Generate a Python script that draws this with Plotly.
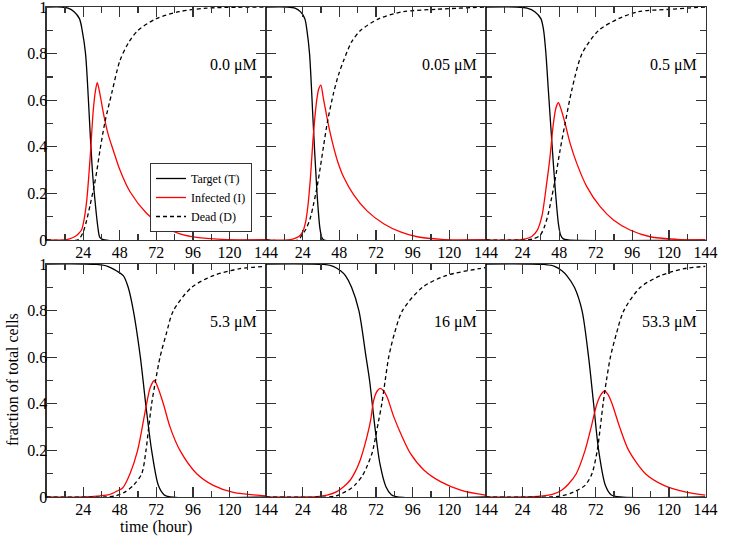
import plotly.graph_objects as go

# ---------------- data ----------------
panel_labels = ["0.0 \u03bcM", "0.05 \u03bcM", "0.5 \u03bcM", "5.3 \u03bcM", "16 \u03bcM", "53.3 \u03bcM"]
series_names = ["Target (T)", "Infected (I)", "Dead (D)"]
x_tick_vals = [0, 24, 48, 72, 96, 120, 144]
x_tick_text = ["", "24", "48", "72", "96", "120", "144"]
y_tick_vals = [0, 0.2, 0.4, 0.6, 0.8, 1]
y_tick_text = ["0", "0.2", "0.4", "0.6", "0.8", "1"]

# Panel 1: 0.0 uM
T1_t = [0, 10, 14, 18, 21.5, 23.3, 25.5, 27.4, 28.6, 30.2, 31.7, 33.5, 35, 38, 144]
T1_v = [1, 1, 0.995, 0.98, 0.95, 0.9, 0.8, 0.6, 0.45, 0.28, 0.17, 0.06, 0.01, 0, 0]
I1_t = [0, 11, 15, 18.6, 21, 23, 24.6, 26.3, 28.4, 30.6, 32, 33.2, 35, 36.8, 38.3, 40.5, 43.7, 48.1, 54.7, 65.7, 76.6, 87.5, 98.5, 115, 144]
I1_v = [0, 0, 0.005, 0.015, 0.028, 0.045, 0.09, 0.17, 0.343, 0.558, 0.64, 0.675, 0.625, 0.56, 0.51, 0.45, 0.385, 0.30, 0.207, 0.114, 0.057, 0.026, 0.011, 0.003, 0]
D1_t = [0, 20, 22, 24, 26.3, 28.5, 31.1, 33, 35, 38.3, 42.7, 48.1, 54, 60, 72, 87, 105, 144]
D1_v = [0, 0, 0.01, 0.035, 0.086, 0.15, 0.23, 0.3, 0.386, 0.508, 0.63, 0.77, 0.85, 0.9, 0.95, 0.98, 0.995, 1]

# Panel 2: 0.05 uM
T2_t = [0, 14, 19, 22.5, 25.4, 26.8, 28.5, 30.9, 33.4, 35.3, 36.6, 38, 144]
T2_v = [1, 1, 0.995, 0.98, 0.95, 0.9, 0.8, 0.5, 0.2, 0.05, 0.01, 0, 0]
I2_t = [0, 14, 18, 21.5, 24, 26, 27.5, 29, 31, 33.2, 34.6, 35.9, 37.5, 39.8, 42, 44.2, 47, 50.8, 57.3, 66.1, 77, 88, 99, 115, 144]
I2_v = [0, 0, 0.005, 0.015, 0.035, 0.08, 0.15, 0.26, 0.45, 0.6, 0.65, 0.665, 0.61, 0.53, 0.46, 0.40, 0.335, 0.27, 0.195, 0.125, 0.07, 0.035, 0.014, 0.003, 0]
D2_t = [0, 21, 23.4, 26, 28.8, 31, 33.5, 35.5, 37.6, 40.3, 44.2, 47.5, 50.8, 56, 62, 74, 90, 111, 144]
D2_v = [0, 0, 0.02, 0.045, 0.09, 0.15, 0.23, 0.31, 0.40, 0.51, 0.63, 0.71, 0.77, 0.85, 0.9, 0.95, 0.98, 0.99, 1]

# Panel 3: 0.5 uM
T3_t = [0, 20, 27, 32, 36, 37.8, 39.3, 40.9, 43.1, 45.3, 47.5, 49, 50.7, 54, 144]
T3_v = [1, 1, 0.995, 0.98, 0.95, 0.9, 0.8, 0.644, 0.43, 0.229, 0.07, 0.02, 0.005, 0, 0]
I3_t = [0, 19, 26, 30, 33.5, 36.6, 39.8, 42, 44.2, 46, 47.5, 49.3, 51.9, 55.2, 59.5, 66.1, 74.9, 83.6, 94.5, 107.7, 125, 144]
I3_v = [0, 0, 0.005, 0.015, 0.04, 0.1, 0.243, 0.357, 0.5, 0.57, 0.589, 0.56, 0.5, 0.415, 0.33, 0.229, 0.143, 0.086, 0.043, 0.014, 0.003, 0]
D3_t = [0, 26, 31, 35.5, 38.5, 40.9, 43, 45.3, 48.6, 51.9, 56.3, 63, 74, 87, 100, 120, 144]
D3_v = [0, 0, 0.005, 0.02, 0.06, 0.114, 0.18, 0.257, 0.386, 0.5, 0.644, 0.8, 0.9, 0.95, 0.98, 0.99, 1]

# Panel 4: 5.3 uM
T4_t = [0, 24, 33, 40, 46, 50.3, 53.5, 56.9, 61.5, 65, 68.9, 73.3, 77, 81, 144]
T4_v = [1, 1, 0.998, 0.99, 0.97, 0.95, 0.9, 0.8, 0.6, 0.4, 0.2, 0.05, 0.01, 0, 0]
I4_t = [0, 24, 35, 41, 46, 50, 54.7, 59.7, 65.6, 68, 70.7, 73, 76.6, 81, 87.5, 98.5, 109.4, 122.5, 144]
I4_v = [0, 0, 0.005, 0.01, 0.025, 0.04, 0.1, 0.2, 0.4, 0.47, 0.5, 0.47, 0.4, 0.3, 0.2, 0.1, 0.05, 0.02, 0.005]
D4_t = [0, 38, 45, 51, 56.9, 62.4, 65.2, 67, 68.9, 71.5, 74.4, 78.5, 83.2, 95.2, 109.4, 126.9, 144]
D4_v = [0, 0, 0.005, 0.02, 0.05, 0.1, 0.2, 0.3, 0.4, 0.5, 0.6, 0.7, 0.8, 0.9, 0.95, 0.98, 0.99]

# Panel 5: 16 uM
T5_t = [0, 28, 38, 44, 49, 52, 56, 60.8, 65.5, 67.8, 71.3, 74.5, 78.5, 82, 86, 144]
T5_v = [1, 1, 0.998, 0.99, 0.97, 0.95, 0.9, 0.8, 0.6, 0.5, 0.3, 0.145, 0.044, 0.01, 0, 0]
I5_t = [0, 26, 35, 40, 46.4, 51, 55.2, 58.5, 61.7, 66.1, 68.5, 70.5, 72.8, 74.9, 77, 79.2, 83.6, 89.1, 94.5, 103.3, 114.2, 127.4, 142.7, 144]
I5_v = [0, 0, 0.003, 0.008, 0.023, 0.045, 0.073, 0.11, 0.159, 0.259, 0.33, 0.416, 0.455, 0.466, 0.455, 0.43, 0.345, 0.259, 0.187, 0.116, 0.066, 0.03, 0.009, 0.008]
D5_t = [0, 40, 46, 54, 58, 63, 66, 69.5, 73.5, 75.8, 78, 80.3, 84, 89.3, 102.4, 117.7, 139.6, 144]
D5_v = [0, 0, 0.005, 0.03, 0.05, 0.09, 0.13, 0.19, 0.32, 0.4, 0.5, 0.6, 0.7, 0.8, 0.9, 0.95, 0.98, 0.985]

# Panel 6: 53.3 uM
T6_t = [0, 28, 38, 45, 50, 53, 58, 63, 67.3, 70.6, 73.9, 78.3, 82, 88, 144]
T6_v = [1, 1, 0.998, 0.99, 0.97, 0.95, 0.9, 0.8, 0.6, 0.4, 0.2, 0.05, 0.01, 0, 0]
I6_t = [0, 24, 36, 44, 49.8, 54, 59.2, 65, 69, 72.8, 75.5, 77.8, 80, 82.7, 87.7, 93.6, 104.6, 116.7, 132, 144]
I6_v = [0, 0, 0.004, 0.012, 0.03, 0.055, 0.1, 0.2, 0.3, 0.4, 0.44, 0.455, 0.44, 0.4, 0.3, 0.2, 0.1, 0.05, 0.02, 0.008]
D6_t = [0, 42, 50, 57, 65, 69.5, 73, 75, 76.8, 79, 81.6, 85.5, 90.4, 101.3, 114.5, 130, 144]
D6_v = [0, 0, 0.005, 0.02, 0.05, 0.1, 0.2, 0.3, 0.4, 0.5, 0.6, 0.7, 0.8, 0.9, 0.95, 0.98, 0.99]

panels = [
    ((T1_t, T1_v), (I1_t, I1_v), (D1_t, D1_v)),
    ((T2_t, T2_v), (I2_t, I2_v), (D2_t, D2_v)),
    ((T3_t, T3_v), (I3_t, I3_v), (D3_t, D3_v)),
    ((T4_t, T4_v), (I4_t, I4_v), (D4_t, D4_v)),
    ((T5_t, T5_v), (I5_t, I5_v), (D5_t, D5_v)),
    ((T6_t, T6_v), (I6_t, I6_v), (D6_t, D6_v)),
]

# ---------------- styling / layout ----------------
W, H = 750, 549
FONT = "Liberation Serif"
AX = "#333333"
line_styles = [
    dict(color="black", width=1.3, dash="solid"),
    dict(color="#ff0000", width=1.3, dash="solid"),
    dict(color="black", width=1.3, dash="4px,3px"),
]

col_px = [(46.7, 266.0), (266.0, 486.0), (486.0, 705.5)]
row_px = [(7.0, 240.0), (264.0, 497.0)]


def px_x(v):
    return v / W


def px_y(v):
    return 1 - v / H


fig = go.Figure()
layout = dict(
    template="none",
    width=W, height=H, autosize=False,
    margin=dict(l=0, r=0, t=0, b=0, pad=0),
    paper_bgcolor="white", plot_bgcolor="white",
    font=dict(family=FONT, size=16, color="black"),
    showlegend=True,
    legend=dict(
        x=px_x(150), y=px_y(163), xanchor="left", yanchor="top",
        bgcolor="white", bordercolor=AX, borderwidth=1,
        font=dict(family=FONT, size=12, color="black"),
        itemwidth=30, tracegroupgap=0,
    ),
    annotations=[],
)

for p in range(6):
    r, c = divmod(p, 3)
    idx = "" if p == 0 else str(p + 1)
    xa, ya = "x" + idx, "y" + idx
    for s in range(3):
        t, v = panels[p][s]
        fig.add_trace(go.Scatter(
            x=t, y=v, mode="lines", xaxis=xa, yaxis=ya,
            line=dict(shape="spline", smoothing=0.8, **line_styles[s]),
            name=series_names[s], showlegend=(p == 0),
            hoverinfo="skip",
        ))
    x0, x1 = col_px[c]
    y0, y1 = row_px[r]
    layout["xaxis" + idx] = dict(
        domain=[px_x(x0), px_x(x1)], anchor=ya, range=[0, 144], automargin=False,
        tickmode="array", tickvals=x_tick_vals, ticktext=x_tick_text,
        ticks="inside", ticklen=10, tickwidth=1.2, tickcolor=AX,
        minor=dict(tickmode="linear", tick0=0, dtick=12, ticks="inside", ticklen=6, tickwidth=1.2, tickcolor=AX),
        showline=True, linecolor=AX, linewidth=1.3, mirror="allticks",
        showgrid=False, zeroline=False, fixedrange=True, ticklabelstandoff=-3,
        ticklabeloverflow="allow",
        tickfont=dict(family=FONT, size=16, color="black"),
    )
    layout["yaxis" + idx] = dict(
        domain=[px_y(y1), px_y(y0)], anchor=xa, range=[0, 1], automargin=False,
        tickmode="array", tickvals=y_tick_vals, ticktext=y_tick_text,
        showticklabels=(c == 0),
        ticks="inside", ticklen=10, tickwidth=1.2, tickcolor=AX,
        minor=dict(tickmode="linear", tick0=0, dtick=0.1, ticks="inside", ticklen=6, tickwidth=1.2, tickcolor=AX),
        showline=True, linecolor=AX, linewidth=1.3, mirror="allticks",
        showgrid=False, zeroline=False, fixedrange=True, ticklabelstandoff=-5,
        ticklabeloverflow="allow",
        tickfont=dict(family=FONT, size=16, color="black"),
    )
    layout["annotations"].append(dict(
        xref=xa, yref=ya, x=139.5, y=0.75, xanchor="right", yanchor="middle",
        text=panel_labels[p], showarrow=False,
        font=dict(family=FONT, size=16, color="black"),
    ))

layout["annotations"].append(dict(
    xref="paper", yref="paper", x=px_x(12), y=px_y(380), xanchor="center", yanchor="middle",
    text="fraction of total cells", textangle=-90, showarrow=False,
    font=dict(family=FONT, size=16, color="black"),
))
layout["annotations"].append(dict(
    xref="paper", yref="paper", x=px_x(156), y=px_y(527), xanchor="center", yanchor="middle",
    text="time (hour)", showarrow=False,
    font=dict(family=FONT, size=16, color="black"),
))

fig.update_layout(**layout)
# remove the browser's default 8px page margin so the 750x549 figure fills the window exactly
fig.write_html(
    "out.html",
    config={"displayModeBar": False, "staticPlot": True},
    post_script="document.body.style.margin='0';document.body.style.overflow='hidden';",
)
